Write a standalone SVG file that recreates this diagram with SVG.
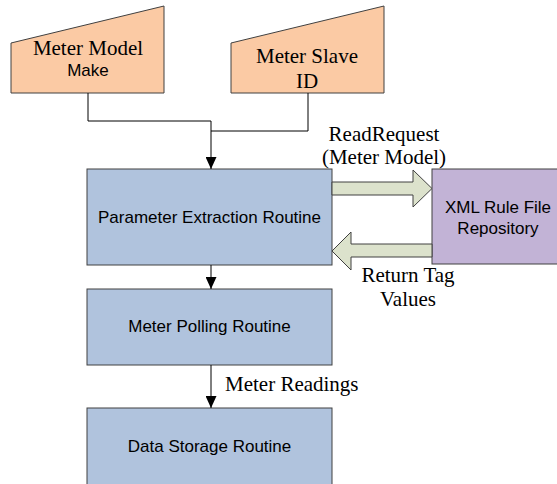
<svg xmlns="http://www.w3.org/2000/svg" width="557" height="484" viewBox="0 0 557 484">
<defs>
<style>
.src{fill:#fbcaa4;stroke:#404040;stroke-width:1}
.box{fill:#b0c3dd;stroke:#404040;stroke-width:1}
.repo{fill:#c2b3d6;stroke:#404040;stroke-width:1}
.big{fill:#dce2cc;stroke:#404040;stroke-width:1}
.ln{fill:none;stroke:#000;stroke-width:1}
.serif{font-family:"Liberation Serif","Times New Roman",serif;font-size:21px;fill:#000}
.sans{font-family:"Liberation Sans",Arial,sans-serif;font-size:17px;fill:#000}
</style>
<marker id="ah" viewBox="0 0 12 11" refX="12" refY="5.5" markerWidth="12" markerHeight="11" markerUnits="userSpaceOnUse" orient="auto">
<path d="M0,0 L12,5.5 L0,11 Z" fill="#000"/>
</marker>
</defs>
<rect width="557" height="484" fill="#fff"/>
<g id="meter-model">
<polygon class="src" points="11,43 164,6 164,93 11,93"/>
<text class="serif" x="88" y="55" text-anchor="middle">Meter Model</text>
<text class="sans" x="88" y="76" text-anchor="middle">Make</text>
</g>
<g id="meter-slave">
<polygon class="src" points="231,43 384,6 384,93 231,93"/>
<text class="serif" x="307" y="63" text-anchor="middle">Meter Slave</text>
<text class="serif" x="307" y="88" text-anchor="middle">ID</text>
</g>
<g id="param">
<rect class="box" x="87" y="169" width="245" height="96"/>
<text class="sans" x="209.5" y="223" text-anchor="middle">Parameter Extraction Routine</text>
</g>
<g id="polling">
<rect class="box" x="87" y="289" width="245" height="76"/>
<text class="sans" x="209.5" y="332" text-anchor="middle">Meter Polling Routine</text>
</g>
<g id="storage">
<rect class="box" x="87" y="408" width="245" height="82"/>
<text class="sans" x="209.5" y="452" text-anchor="middle">Data Storage Routine</text>
</g>
<g id="repo">
<rect class="repo" x="432" y="169" width="130" height="95"/>
<text class="sans" x="498" y="213" text-anchor="middle">XML Rule File</text>
<text class="sans" x="498" y="234" text-anchor="middle">Repository</text>
</g>
<g id="connectors">
<polyline class="ln" points="88,93 88,121 211,121"/>
<polyline class="ln" points="308,93 308,131 211,131"/>
<line class="ln" x1="211" y1="121" x2="211" y2="169" marker-end="url(#ah)"/>
<line class="ln" x1="211" y1="265" x2="211" y2="289" marker-end="url(#ah)"/>
<line class="ln" x1="211" y1="365" x2="211" y2="408" marker-end="url(#ah)"/>
<polygon class="big" points="332,182 413,182 413,170 432,188.5 413,207 413,195 332,195"/>
<polygon class="big" points="432,244 351,244 351,232 332,251 351,270 351,257 432,257"/>
<text class="serif" x="384" y="141" text-anchor="middle">ReadRequest</text>
<text class="serif" x="384" y="164" text-anchor="middle">(Meter Model)</text>
<text class="serif" x="408" y="282" text-anchor="middle">Return Tag</text>
<text class="serif" x="408" y="306" text-anchor="middle">Values</text>
<text class="serif" x="225" y="391">Meter Readings</text>
</g>
</svg>
